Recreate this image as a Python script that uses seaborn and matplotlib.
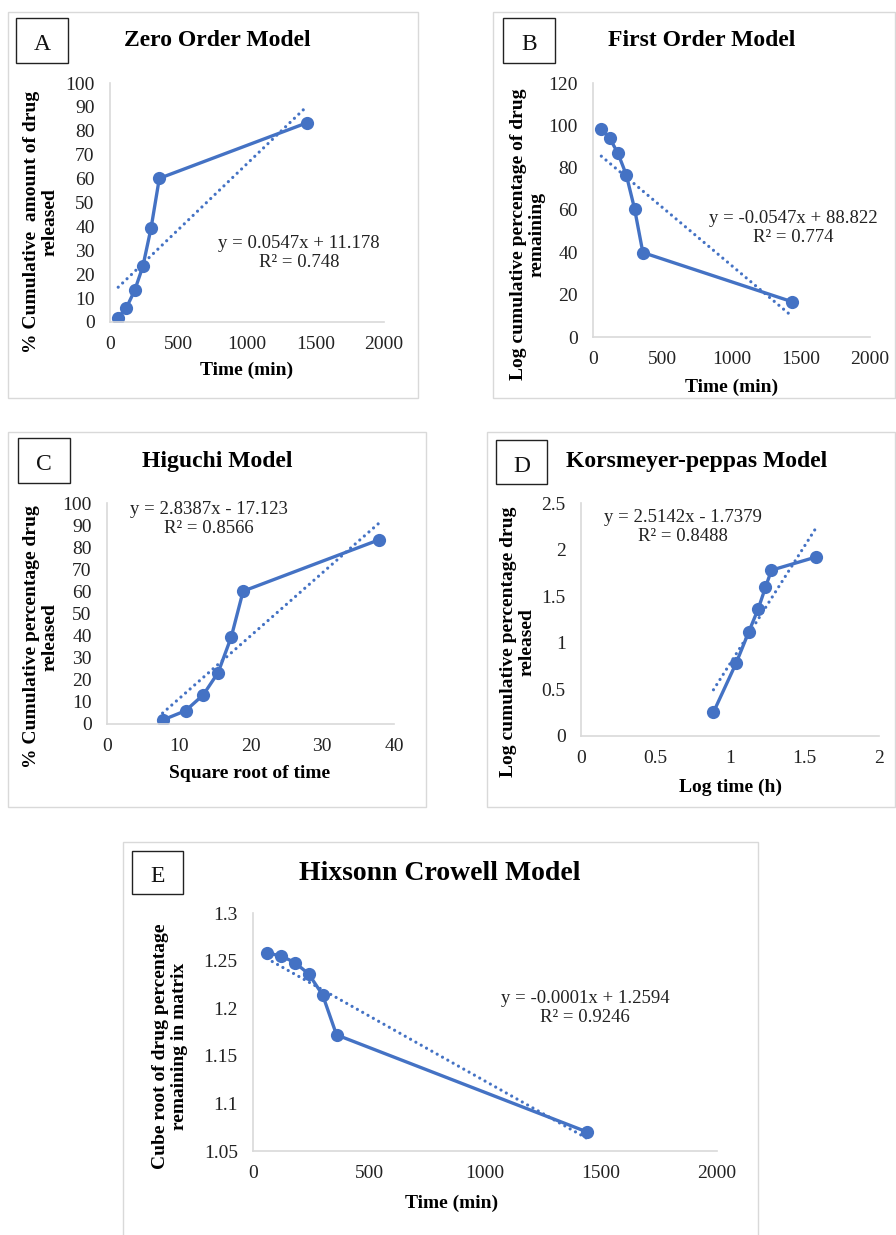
import numpy as np
import matplotlib
matplotlib.use("Agg")
import matplotlib.pyplot as plt
from matplotlib.patches import Rectangle
from matplotlib.ticker import FuncFormatter
import seaborn as sns

sns.set_theme(style="white")
plt.rcParams['font.family'] = ['Liberation Serif', 'DejaVu Serif']

# ---------------- data ----------------
time_min = [60, 120, 180, 240, 300, 360, 1440]
zero_order = [1.8, 6.0, 13.2, 23.3, 39.4, 60.1, 83.4]
first_order = [98.2, 94.0, 86.8, 76.7, 60.6, 39.9, 16.6]
sqrt_time = [7.75, 10.95, 13.42, 15.49, 17.32, 18.97, 37.95]
higuchi = [1.8, 6.0, 13.2, 23.3, 39.4, 60.1, 83.4]
log_time = [0.889, 1.040, 1.127, 1.190, 1.238, 1.278, 1.579]
log_release = [0.255, 0.778, 1.121, 1.367, 1.595, 1.779, 1.921]
hixson = [1.258, 1.255, 1.248, 1.236, 1.214, 1.172, 1.070]

letters = ["A", "B", "C", "D", "E"]
titles = ["Zero Order Model", "First Order Model", "Higuchi Model",
          "Korsmeyer-peppas Model", "Hixsonn Crowell Model"]
xlabels = ["Time (min)", "Time (min)", "Square root of time", "Log time (h)", "Time (min)"]
ylabels = ["% Cumulative  amount of drug\nreleased",
           "Log cumulative percentage of drug\nremaining",
           "% Cumulative percentage drug\nreleased",
           "Log cumulative percentage drug\nreleased",
           "Cube root of drug percentage\nremaining in matrix"]
equations = ["y = 0.0547x + 11.178\nR² = 0.748",
             "y = -0.0547x + 88.822\nR² = 0.774",
             "y = 2.8387x - 17.123\nR² = 0.8566",
             "y = 2.5142x - 1.7379\nR² = 0.8488",
             "y = -0.0001x + 1.2594\nR² = 0.9246"]
x_ticks = [[0, 500, 1000, 1500, 2000], [0, 500, 1000, 1500, 2000], [0, 10, 20, 30, 40],
           [0, 0.5, 1, 1.5, 2], [0, 500, 1000, 1500, 2000]]
y_ticks = [[0, 10, 20, 30, 40, 50, 60, 70, 80, 90, 100],
           [0, 20, 40, 60, 80, 100, 120],
           [0, 10, 20, 30, 40, 50, 60, 70, 80, 90, 100],
           [0, 0.5, 1, 1.5, 2, 2.5],
           [1.05, 1.1, 1.15, 1.2, 1.25, 1.3]]
xs = [time_min, time_min, sqrt_time, log_time, time_min]
ys = [zero_order, first_order, higuchi, log_release, hixson]

# ---------------- layout (pixels) ----------------
W, H = 896, 1235
fig = plt.figure(figsize=(W / 100, H / 100), dpi=100)
fig.patch.set_facecolor("white")

def fx(x): return x / W
def fy(y): return 1 - y / H

panel_boxes = [(8, 12, 418, 398), (493, 12, 895, 398), (8, 432, 426, 807),
               (487, 432, 895, 807), (123, 842, 758, 1240)]
axes_boxes = [(110, 83, 384, 322), (593, 83, 870, 337), (107, 503, 394, 724),
              (581, 503, 879, 736), (253, 913, 717, 1151)]
letter_boxes = [(16, 18, 68, 63), (503, 18, 555, 63), (18, 438, 70, 483),
                (496, 440, 547, 484), (132, 851, 183, 894)]
title_pos = [(217, 41, 17), (702, 41, 17), (217, 462, 17), (697, 462, 17), (440, 873, 20)]
xlabel_pos = [(247, 370), (732, 387), (250, 773), (730, 787), (452, 1203)]
ylabel_pos = [(41, 222), (528, 234), (41, 637), (518, 642), (170, 1046)]
eq_pos = [(299, 253), (793, 228), (209, 519), (683, 527), (585, 1008)]

blue = "#4472C4"
grey = "#D9D9D9"

for i in range(5):
    # panel border
    x0, y0, x1, y1 = panel_boxes[i]
    fig.add_artist(Rectangle((fx(x0), fy(y1)), (x1 - x0) / W, (y1 - y0) / H,
                             transform=fig.transFigure, fill=False, ec=grey, lw=1))
    # letter box
    x0, y0, x1, y1 = letter_boxes[i]
    fig.add_artist(Rectangle((fx(x0), fy(y1)), (x1 - x0) / W, (y1 - y0) / H,
                             transform=fig.transFigure, fill=False, ec="#222222", lw=1))
    fig.text(fx((x0 + x1) / 2), fy((y0 + y1) / 2 + 2), letters[i], ha="center",
             va="center_baseline", fontsize=17, color="#111111")
    tx, ty, ts = title_pos[i]
    fig.text(fx(tx), fy(ty), titles[i], ha="center", va="center", fontsize=ts,
             fontweight="bold", color="black")

    ax0, ay0, ax1, ay1 = axes_boxes[i]
    ax = fig.add_axes([fx(ax0), fy(ay1), (ax1 - ax0) / W, (ay1 - ay0) / H])
    ax.set_facecolor("none")
    sns.regplot(x=np.array(xs[i]), y=np.array(ys[i]), ax=ax, scatter=False, ci=None,
                truncate=True,
                line_kws=dict(color=blue, lw=2.3, ls=(0, (0.01, 1.9)),
                              dash_capstyle="round"))
    sns.lineplot(x=xs[i], y=ys[i], ax=ax, color=blue, lw=2.4, marker="o",
                 markersize=9.5, markeredgewidth=0, sort=False)
    ax.set_xlim(x_ticks[i][0], x_ticks[i][-1])
    ax.set_ylim(y_ticks[i][0], y_ticks[i][-1])
    ax.set_xticks(x_ticks[i])
    ax.set_yticks(y_ticks[i])
    fmt = FuncFormatter(lambda v, p: f"{v:g}")
    ax.xaxis.set_major_formatter(fmt)
    ax.yaxis.set_major_formatter(fmt)
    ax.tick_params(axis="both", length=0, labelsize=14, colors="#222222", pad=10)
    ax.tick_params(axis="y", pad=11)
    for s in ["top", "right"]:
        ax.spines[s].set_visible(False)
    for s in ["left", "bottom"]:
        ax.spines[s].set_color(grey)
        ax.spines[s].set_linewidth(1.2)
    ax.set_xlabel("")
    ax.set_ylabel("")
    ax.grid(False)

    lx, ly = xlabel_pos[i]
    fig.text(fx(lx), fy(ly), xlabels[i], ha="center", va="center", fontsize=14,
             fontweight="bold", color="black")
    yx, yy = ylabel_pos[i]
    fig.text(fx(yx), fy(yy), ylabels[i], ha="center", va="center", fontsize=14,
             fontweight="bold", rotation=90, multialignment="center", color="black",
             linespacing=1.15)
    ex, ey = eq_pos[i]
    fig.text(fx(ex), fy(ey), equations[i], ha="center", va="center", fontsize=13.5,
             multialignment="center", color="#222222", linespacing=1.1)

fig.savefig("out.png", dpi=100, facecolor="white")
